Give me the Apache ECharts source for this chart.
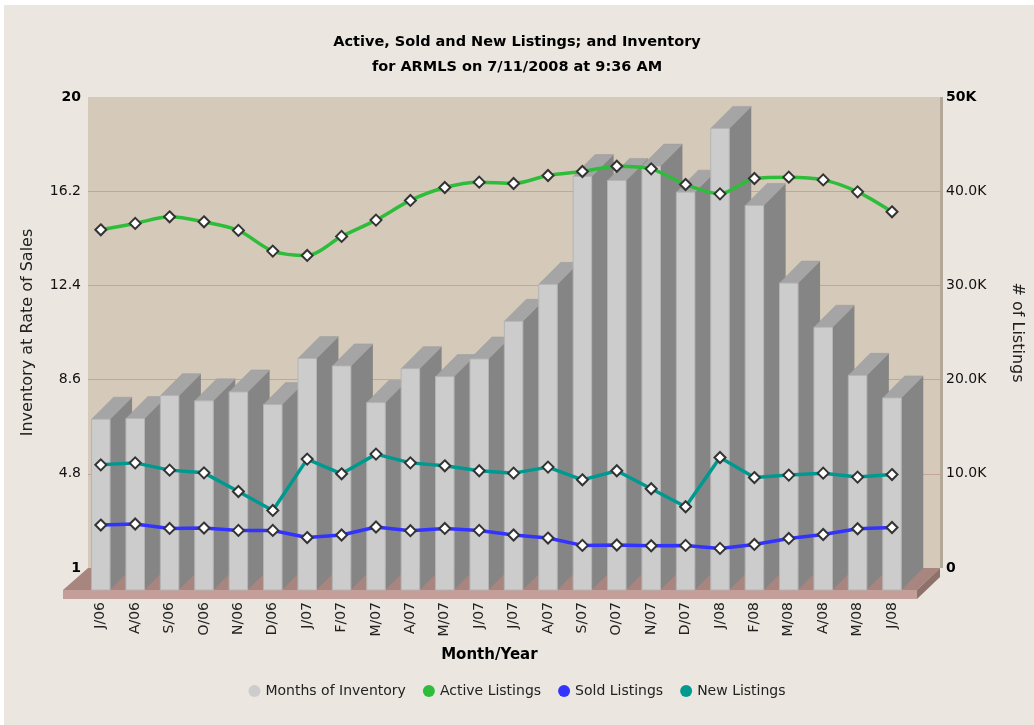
<!DOCTYPE html>
<html><head><meta charset="utf-8">
<script src="https://cdn.jsdelivr.net/npm/echarts@6/dist/echarts.min.js"></script>
<style>html,body{margin:0;padding:0;background:#fff}#c{width:1034px;height:725px}</style>
</head><body><div id="c"></div>
<script>
const categories = ['J/06','A/06','S/06','O/06','N/06','D/06','J/07','F/07','M/07','A/07','M/07','J/07','J/07','A/07','S/07','O/07','N/07','D/07','J/08','F/08','M/08','A/08','M/08','J/08'];
const monthsInv = [7.89, 7.92, 8.84, 8.63, 8.99, 8.48, 10.34, 10.04, 8.56, 9.93, 9.61, 10.32, 11.84, 13.33, 17.68, 17.52, 18.10, 17.05, 19.62, 16.51, 13.38, 11.60, 9.66, 8.75];
const activeListings = [35900, 36580, 37280, 36750, 35840, 33640, 33180, 35200, 36930, 39020, 40390, 40960, 40820, 41670, 42090, 42650, 42370, 40710, 39720, 41350, 41490, 41200, 39930, 37810];
const soldListings = [4560, 4670, 4200, 4240, 3990, 3990, 3230, 3500, 4350, 3960, 4200, 3990, 3500, 3180, 2400, 2440, 2360, 2400, 2080, 2500, 3140, 3560, 4170, 4300];
const newListings = [10950, 11160, 10390, 10100, 8120, 6110, 11560, 10000, 12090, 11160, 10850, 10320, 10070, 10710, 9360, 10320, 8410, 6500, 11730, 9600, 9860, 10070, 9650, 9920];
const leftTicks = [1, 4.8, 8.6, 12.4, 16.2, 20];
const rightMax = 50000;

const FONT = '"DejaVu Sans", Verdana, sans-serif';
const D = 22;      // 3D depth offset
const HALF = 9.25; // half bar width
const FLOOR_T = 9;

const chart = echarts.init(document.getElementById('c'), null, {renderer: 'canvas'});

function lineSeries(name, data, color, smooth) {
  return {
    name, type: 'line', xAxisIndex: 1, yAxisIndex: 3, data,
    symbol: 'diamond', symbolSize: 11, smooth: smooth || false, z: 5,
    itemStyle: {color: '#ffffff', borderColor: '#333333', borderWidth: 2},
    lineStyle: {color, width: 3.5},
    emphasis: {disabled: true}
  };
}

const option = {
  animation: false,
  backgroundColor: '#ebe7e0',
  textStyle: {fontFamily: FONT},
  title: {
    text: 'Active, Sold and New Listings; and Inventory\nfor ARMLS on 7/11/2008 at 9:36 AM',
    left: 'center', top: 25,
    textStyle: {fontFamily: FONT, fontSize: 14.5, fontWeight: 'bold', color: '#000', lineHeight: 25}
  },
  legend: {
    bottom: 22, left: 'center', icon: 'circle', itemWidth: 12, itemHeight: 12, itemGap: 17,
    textStyle: {fontFamily: FONT, fontSize: 14, color: '#222'},
    data: [
      {name: 'Months of Inventory', itemStyle: {color: '#cccccc', borderWidth: 0}},
      {name: 'Active Listings', itemStyle: {color: '#2dbd3a', borderWidth: 0}},
      {name: 'Sold Listings', itemStyle: {color: '#3333ff', borderWidth: 0}},
      {name: 'New Listings', itemStyle: {color: '#009990', borderWidth: 0}}
    ]
  },
  graphic: [
    {type: 'rect', shape: {x: 0, y: 0, width: 1034, height: 5}, style: {fill: '#ffffff'}, z: 100},
    {type: 'rect', shape: {x: 0, y: 0, width: 4, height: 725}, style: {fill: '#ffffff'}, z: 100}
  ],
  grid: [
    {left: 88, right: 94, top: 97, bottom: 157, show: true, backgroundColor: '#d5cab9', borderWidth: 0},
    {left: 83.6, right: 124.8, top: 97, bottom: 157}
  ],
  xAxis: [
    {type: 'value', gridIndex: 0, min: 0, max: 1, show: false},
    {
      type: 'category', gridIndex: 1, data: categories, boundaryGap: true,
      axisLine: {show: false}, axisTick: {show: false},
      axisLabel: {rotate: 90, margin: 34, fontSize: 14, color: '#222', fontFamily: FONT, interval: 0},
      name: 'Month/Year', nameLocation: 'middle', nameGap: 80,
      nameTextStyle: {fontFamily: FONT, fontSize: 15, fontWeight: 'bold', color: '#000', padding: [0, 14, 0, 0]}
    }
  ],
  yAxis: [
    {
      type: 'value', gridIndex: 0, position: 'left', min: 1, max: 20,
      axisLine: {show: false}, axisTick: {show: false}, splitLine: {show: false},
      axisLabel: {
        customValues: leftTicks, margin: 7, fontSize: 14, color: '#111', fontFamily: FONT,
        formatter: v => (v === 1 || v === 20) ? '{b|' + v + '}' : String(v),
        rich: {b: {fontWeight: 'bold', fontSize: 14, color: '#000', fontFamily: FONT}}
      },
      name: 'Inventory at Rate of Sales', nameLocation: 'middle', nameRotate: 90, nameGap: 52,
      nameTextStyle: {fontFamily: FONT, fontSize: 16, color: '#222'}
    },
    {
      type: 'value', gridIndex: 0, position: 'right', min: 0, max: rightMax, interval: 10000,
      axisLine: {show: false}, axisTick: {show: false},
      splitLine: {show: true, showMinLine: false, showMaxLine: false, lineStyle: {color: '#c8a39b', width: 1}},
      axisLabel: {
        margin: 6, fontSize: 14, color: '#111', fontFamily: FONT,
        formatter: v => v === 0 ? '{b|0}' : (v === rightMax ? '{b|50K}' : (v / 1000).toFixed(1) + 'K'),
        rich: {b: {fontWeight: 'bold', fontSize: 14, color: '#000', fontFamily: FONT}}
      },
      name: '# of Listings', nameLocation: 'middle', nameRotate: -90, nameGap: 69,
      nameTextStyle: {fontFamily: FONT, fontSize: 16, color: '#222'}
    },
    {type: 'value', gridIndex: 1, min: 1, max: 20, show: false},
    {type: 'value', gridIndex: 1, min: 0, max: rightMax, show: false}
  ],
  series: [
    {
      name: 'floor', type: 'custom', xAxisIndex: 0, yAxisIndex: 1, z: 1, clip: false, silent: true,
      data: [[0, 0]],
      renderItem: function (params, api) {
        const bl = api.coord([0, 0]);
        const br = api.coord([1, 0]);
        const tr = api.coord([1, rightMax]);
        const fl = bl[0] - 25, fr = br[0] - 23;
        return {type: 'group', children: [
          {type: 'rect', shape: {x: br[0], y: tr[1], width: 3, height: br[1] - tr[1]}, style: {fill: '#b3a99b'}},
          {type: 'polygon', shape: {points: [[fl, bl[1] + D], [fr, br[1] + D], [br[0], br[1]], [bl[0], bl[1]]]}, style: {fill: '#a8867f'}},
          {type: 'rect', shape: {x: fl, y: bl[1] + D, width: fr - fl, height: FLOOR_T}, style: {fill: '#c49f99'}},
          {type: 'polygon', shape: {points: [[fr, br[1] + D], [br[0], br[1]], [br[0], br[1] + FLOOR_T], [fr, br[1] + D + FLOOR_T]]}, style: {fill: '#8f716c'}}
        ]};
      }
    },
    {
      name: 'Months of Inventory', type: 'custom', xAxisIndex: 1, yAxisIndex: 2, z: 2, clip: false,
      itemStyle: {color: '#cccccc'},
      encode: {x: 0, y: 1},
      data: monthsInv.map((v, i) => [i, v]),
      renderItem: function (params, api) {
        const i = api.value(0), v = api.value(1);
        const top = api.coord([i, v]);
        const base = api.coord([i, 1]);
        const cx = top[0];
        const xl = cx - HALF, xr = cx + HALF;
        const yt = top[1] + D, yb = base[1] + D;
        return {type: 'group', children: [
          {type: 'polygon', shape: {points: [[xr, yt], [xr + D, yt - D], [xr + D, yb - D], [xr, yb]]}, style: {fill: '#858585'}},
          {type: 'polygon', shape: {points: [[xl, yt], [xl + D, yt - D], [xr + D, yt - D], [xr, yt]]}, style: {fill: '#a5a5a5', stroke: '#9a9a9a', lineWidth: 0.5}},
          {type: 'rect', shape: {x: xl, y: yt, width: xr - xl, height: yb - yt}, style: {fill: '#cccccc', stroke: '#b4b4b4', lineWidth: 1}}
        ]};
      }
    },
    lineSeries('Active Listings', activeListings, '#2dbd3a', 0.3),
    lineSeries('Sold Listings', soldListings, '#3333ff'),
    lineSeries('New Listings', newListings, '#009990')
  ]
};
chart.setOption(option);
</script>
</body></html>
